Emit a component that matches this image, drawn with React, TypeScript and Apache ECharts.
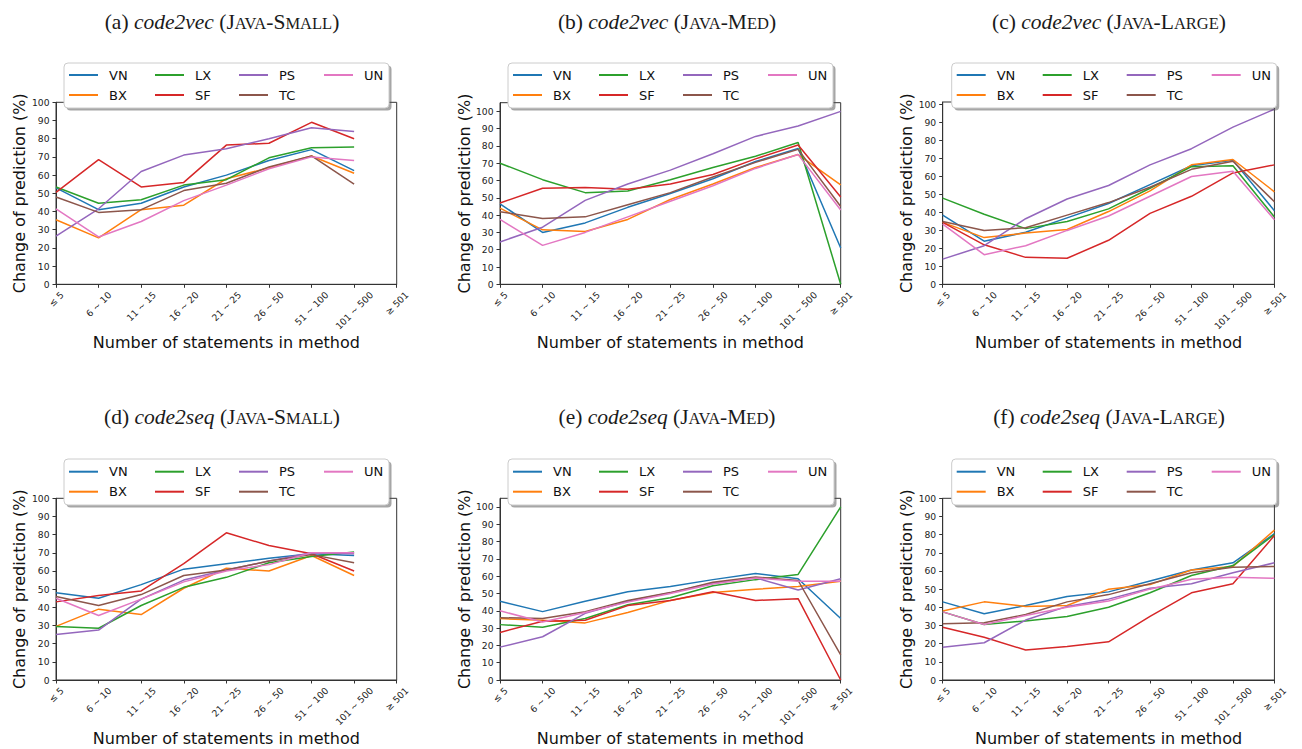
import React, { useEffect, useRef } from "react";
import * as echarts from "echarts";

// ---------- data ----------
const categories = ["≤ 5", "6 ~ 10", "11 ~ 15", "16 ~ 20", "21 ~ 25", "26 ~ 50", "51 ~ 100", "101 ~ 500", "≥ 501"];
const seriesNames = ["VN", "BX", "LX", "SF", "PS", "TC", "UN"];
const seriesColors = ["#1f77b4", "#ff7f0e", "#2ca02c", "#d62728", "#9467bd", "#8c564b", "#e377c2"];
const yTickValues = [0, 10, 20, 30, 40, 50, 60, 70, 80, 90, 100];
const yAxisName = "Change of prediction (%)";
const xAxisName = "Number of statements in method";

// (a) code2vec, Java-Small
const vecSmallVN = [53, 41, 44.5, 53.5, 60, 68, 74, 62.5];
const vecSmallBX = [35.5, 25.5, 41, 43.5, 58, 64, 70.5, 61];
const vecSmallLX = [53.5, 44.5, 46.5, 54.5, 57.5, 69.5, 75, 75.5];
const vecSmallSF = [50.5, 68.5, 53.5, 56, 76.5, 77.5, 89, 80];
const vecSmallPS = [26.5, 41.5, 62, 71, 74.5, 80, 86, 84];
const vecSmallTC = [48, 39.5, 41, 51.5, 55.5, 64.5, 70.5, 55];
const vecSmallUN = [41.5, 26, 34.5, 46, 54.5, 63.5, 70, 68];

// (b) code2vec, Java-Med
const vecMedVN = [46.5, 30, 35.5, 44.5, 52.5, 61, 71, 78.5, 21];
const vecMedBX = [44, 31.5, 30.5, 37.5, 49, 58, 67.5, 75, 57.5];
const vecMedLX = [70, 60.5, 53, 54, 60.5, 67.5, 74, 82, 0];
const vecMedSF = [47, 55.5, 56, 55, 58, 63.5, 72.5, 80.5, 50.5];
const vecMedPS = [24.5, 33, 48.5, 58, 66, 75.5, 85.5, 91.5, 100];
const vecMedTC = [42, 38, 39, 46, 53, 62, 70.5, 78, 45];
const vecMedUN = [37.5, 22.5, 30, 39, 48, 57, 67, 75, 43];

// (c) code2vec, Java-Large
const vecLargeVN = [38.5, 24, 29, 37, 45, 55.5, 66, 69, 41];
const vecLargeBX = [34.5, 26, 28.5, 30.5, 40.5, 52, 66.5, 69.5, 51.5];
const vecLargeLX = [48, 39, 31, 35, 42, 53.5, 65.5, 66, 37.5];
const vecLargeSF = [34.5, 22, 15, 14.5, 24.5, 39.5, 49, 62, 66.5];
const vecLargePS = [14, 21.5, 36.5, 47.5, 55, 66.5, 75.5, 87.5, 97.5];
const vecLargeTC = [35, 30, 31.5, 38.5, 45.5, 54, 64, 68.5, 46];
const vecLargeUN = [33.5, 16.5, 21.5, 30, 38, 49, 60, 63, 36];

// (d) code2seq, Java-Small
const seqSmallVN = [48, 45, 52.5, 61, 64, 67, 69.5, 68.5];
const seqSmallBX = [29.5, 39, 36, 50.5, 61.5, 60, 68.5, 57.5];
const seqSmallLX = [29.5, 28.5, 41, 51, 56.5, 64.5, 68, 70.5];
const seqSmallSF = [43, 46.5, 49, 64, 81, 74, 69.5, 60];
const seqSmallPS = [25, 27.5, 44.5, 55, 60.5, 65.5, 70, 69.5];
const seqSmallTC = [46, 41, 47, 57.5, 60.5, 65.5, 69, 64.5];
const seqSmallUN = [45, 35.5, 44.5, 54, 60, 63.5, 70, 70];

// (e) code2seq, Java-Med
const seqMedVN = [45.5, 39.5, 45.5, 51, 54, 58, 61.5, 58.5, 35.5];
const seqMedBX = [35.5, 34.5, 33, 39, 46, 50.5, 52.5, 54, 57];
const seqMedLX = [32, 30.5, 35.5, 43.5, 47.5, 54.5, 58, 61, 100];
const seqMedSF = [27.5, 34, 34.5, 43, 46, 51, 46, 47, 0];
const seqMedPS = [19, 25, 38.5, 45.5, 50.5, 56, 59, 52, 58.5];
const seqMedTC = [36, 35.5, 39.5, 46, 50.5, 56.5, 59.5, 57.5, 14.5];
const seqMedUN = [40, 33.5, 39, 45, 50, 55.5, 59, 57, 57];

// (f) code2seq, Java-Large
const seqLargeVN = [43, 36.5, 41, 46, 48.5, 54.5, 60.5, 64.5, 80.5];
const seqLargeBX = [38, 43, 40.5, 41, 50, 52.5, 60.5, 62.5, 82.5];
const seqLargeLX = [37.5, 30.5, 32.5, 35, 40, 48, 57.5, 63, 80];
const seqLargeSF = [29, 23.5, 16.5, 18.5, 21, 35, 48, 53, 79.5];
const seqLargePS = [18, 20.5, 33, 40.5, 44.5, 50.5, 53, 59, 64.5];
const seqLargeTC = [31, 31.5, 36, 43, 47, 53, 59, 62, 62.5];
const seqLargeUN = [37.5, 30.5, 35.5, 40, 43.5, 50, 55.5, 56.5, 56];

const panelLetters = ["(a) ", "(b) ", "(c) ", "(d) ", "(e) ", "(f) "];
const panelModels = ["code2vec", "code2vec", "code2vec", "code2seq", "code2seq", "code2seq"];
// dataset names as small-caps pieces: [cap, small, cap, small]
const datasetPieces = [
  ["J", "AVA", "-S", "MALL"],
  ["J", "AVA", "-M", "ED"],
  ["J", "AVA", "-L", "ARGE"],
  ["J", "AVA", "-S", "MALL"],
  ["J", "AVA", "-M", "ED"],
  ["J", "AVA", "-L", "ARGE"],
];
const panelData = [
  [vecSmallVN, vecSmallBX, vecSmallLX, vecSmallSF, vecSmallPS, vecSmallTC, vecSmallUN],
  [vecMedVN, vecMedBX, vecMedLX, vecMedSF, vecMedPS, vecMedTC, vecMedUN],
  [vecLargeVN, vecLargeBX, vecLargeLX, vecLargeSF, vecLargePS, vecLargeTC, vecLargeUN],
  [seqSmallVN, seqSmallBX, seqSmallLX, seqSmallSF, seqSmallPS, seqSmallTC, seqSmallUN],
  [seqMedVN, seqMedBX, seqMedLX, seqMedSF, seqMedPS, seqMedTC, seqMedUN],
  [seqLargeVN, seqLargeBX, seqLargeLX, seqLargeSF, seqLargePS, seqLargeTC, seqLargeUN],
];
const panelYMax = [100, 105, 101.5, 100, 105, 100];

// ---------- layout ----------
const grids = [
  { left: 56, top: 102.3, width: 340.7, height: 182 },
  { left: 500, top: 102.7, width: 340.7, height: 181.6 },
  { left: 942.7, top: 102, width: 342, height: 182.3 },
  { left: 56, top: 498.3, width: 340.7, height: 181.7 },
  { left: 500, top: 498.3, width: 340.7, height: 181.7 },
  { left: 942.7, top: 498.3, width: 342, height: 181.7 },
];
const legendBoxes = [
  { x: 64, y: 63, w: 325, h: 45 },
  { x: 508, y: 63, w: 325, h: 45 },
  { x: 951.7, y: 63, w: 325, h: 45 },
  { x: 64, y: 459, w: 325, h: 46 },
  { x: 508, y: 459, w: 326, h: 46 },
  { x: 951.7, y: 459, w: 325, h: 46 },
];
const titlePos = [
  { x: 222, y: 22 },
  { x: 667, y: 22 },
  { x: 1109, y: 22 },
  { x: 222, y: 417 },
  { x: 667, y: 417 },
  { x: 1109, y: 417 },
];
const legendColOffsets = [5, 91, 175, 260];
const legendRowOffsets = [12, 32];

const TICK_FONT = 9.2;
const SANS = "DejaVu Sans";
const SERIF = "Liberation Serif";

function measure(text: string): number {
  const c = document.createElement("canvas").getContext("2d");
  if (!c) return text.length * TICK_FONT * 0.6;
  c.font = `${TICK_FONT}px "${SANS}"`;
  return c.measureText(text).width;
}

function buildOption() {
  const xRich: Record<string, any> = {};
  categories.forEach((c, i) => {
    const p = (measure(c) + TICK_FONT * 0.73) / 2;
    xRich["p" + i] = {
      fontSize: TICK_FONT,
      fontFamily: SANS,
      color: "#222",
      lineHeight: 11,
      padding: [p, p, 0, 0],
    };
  });

  const gridOpt: any[] = [];
  const xAxes: any[] = [];
  const yAxes: any[] = [];
  const series: any[] = [];
  const legends: any[] = [];
  const graphics: any[] = [];

  for (let p = 0; p < 6; p++) {
    const g = grids[p];
    gridOpt.push({
      left: g.left,
      top: g.top,
      width: g.width,
      height: g.height,
      show: true,
      borderColor: "#333",
      borderWidth: 1,
      backgroundColor: "transparent",
    });
    xAxes.push({
      gridIndex: p,
      type: "category",
      data: categories,
      boundaryGap: false,
      axisLine: { show: true, onZero: false, lineStyle: { color: "#333", width: 1 } },
      axisTick: { show: true, interval: 0, length: 3.5, lineStyle: { color: "#333" } },
      axisLabel: {
        interval: 0,
        rotate: 45,
        align: "center",
        verticalAlign: "middle",
        margin: 6.5,
        fontSize: TICK_FONT,
        fontFamily: SANS,
        color: "#222",
        formatter: (v: string, i: number) => `{p${i}|${v}}`,
        rich: xRich,
      },
      splitLine: { show: false },
      name: xAxisName,
      nameLocation: "middle",
      nameGap: 58,
      nameTextStyle: { fontSize: 16, fontFamily: SANS, color: "#111", verticalAlign: "middle" },
    });
    yAxes.push({
      gridIndex: p,
      type: "value",
      min: 0,
      max: panelYMax[p],
      interval: 10,
      axisLine: { show: true, lineStyle: { color: "#333", width: 1 } },
      axisTick: { show: true, length: 3.5, customValues: yTickValues, lineStyle: { color: "#333" } },
      axisLabel: {
        customValues: yTickValues,
        fontSize: TICK_FONT,
        fontFamily: SANS,
        color: "#222",
        margin: 6.5,
      },
      splitLine: { show: false },
      name: yAxisName,
      nameLocation: "middle",
      nameGap: p % 3 === 0 ? 36.5 : 35,
      nameTextStyle: { fontSize: 16, fontFamily: SANS, color: "#111", verticalAlign: "middle" },
    });

    seriesNames.forEach((name, i) => {
      series.push({
        type: "line",
        name,
        xAxisIndex: p,
        yAxisIndex: p,
        data: panelData[p][i],
        symbol: "none",
        color: seriesColors[i],
        lineStyle: { width: 1.5, color: seriesColors[i] },
        z: 2 + i * 0.01,
      });
      const col = Math.floor(i / 2);
      const row = i % 2;
      const b = legendBoxes[p];
      legends.push({
        left: b.x + legendColOffsets[col],
        top: b.y + legendRowOffsets[row] + (p >= 3 ? 0.7 : 0) - 8,
        padding: 0,
        itemWidth: 29,
        itemHeight: 2,
        icon: "rect",
        selectedMode: false,
        data: [name],
        z: 20,
        textStyle: {
          fontSize: 13,
          fontFamily: SANS,
          color: "#111",
          lineHeight: 16,
          padding: [0, 0, 0, 6],
        },
      });
    });

    const b = legendBoxes[p];
    graphics.push({
      type: "rect",
      z: 9,
      shape: { x: b.x + 2.5, y: b.y + 2.5, width: b.w, height: b.h, r: 4 },
      style: { fill: "rgba(77,77,77,0.5)" },
    });
    graphics.push({
      type: "rect",
      z: 10,
      shape: { x: b.x, y: b.y, width: b.w, height: b.h, r: 4 },
      style: { fill: "#ffffff", stroke: "#cccccc", lineWidth: 1 },
    });

    const dp = datasetPieces[p];
    const t = titlePos[p];
    graphics.push({
      type: "text",
      z: 10,
      x: t.x,
      y: t.y,
      style: {
        text: `{n|${panelLetters[p]}}{i|${panelModels[p]}}{n| (${dp[0]}}{s|${dp[1]}}{n|${dp[2]}}{s|${dp[3]}}{n|)}`,
        align: "center",
        verticalAlign: "middle",
        rich: {
          n: { fontSize: 21.5, fontFamily: SERIF, fill: "#1a1a1a" },
          i: { fontSize: 21.5, fontFamily: SERIF, fontStyle: "italic", fill: "#1a1a1a" },
          s: { fontSize: 16.5, fontFamily: SERIF, fill: "#1a1a1a", padding: [3.4, 0, 0, 0] },
        },
      },
    });
  }

  return {
    animation: false,
    backgroundColor: "#ffffff",
    grid: gridOpt,
    xAxis: xAxes,
    yAxis: yAxes,
    series,
    legend: legends,
    graphic: { elements: graphics },
  };
}

export default function App() {
  const ref = useRef<HTMLDivElement>(null);
  useEffect(() => {
    if (!ref.current) return;
    const chart = echarts.init(ref.current, undefined, { renderer: "svg" });
    chart.setOption(buildOption() as any);
    return () => chart.dispose();
  }, []);
  return (
    <div
      ref={ref}
      style={{ position: "fixed", left: 0, top: 0, width: 1302, height: 749, background: "#fff" }}
    />
  );
}
